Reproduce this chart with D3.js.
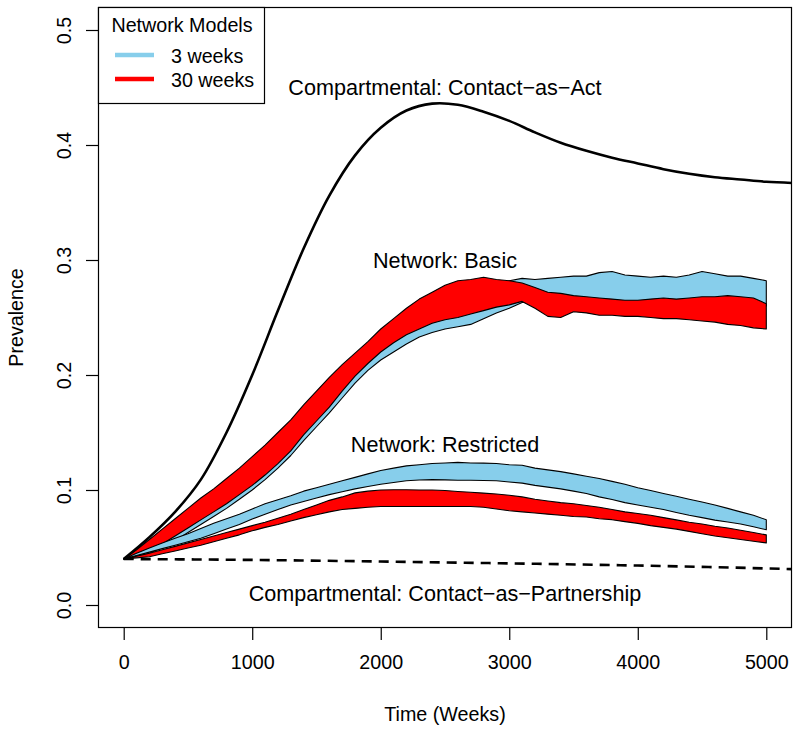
<!DOCTYPE html>
<html><head><meta charset="utf-8">
<script src="https://cdn.jsdelivr.net/npm/d3@7"></script>
<style>body{margin:0;background:#fff}svg{display:block}text{font-family:"Liberation Sans",Arial,Helvetica,sans-serif;fill:#000}</style>
</head><body><svg id="c" width="800" height="732"></svg>
<script>
// ---- data ----
const bandTimes = d3.range(0, 5001, 100);
const basic3Hi  = [.040,.047,.055,.063,.071,.080,.088,.097,.105,.114,.124,.134,.145,.156,.168,.180,.192,.203,.213,.223,.232,.240,.247,.253,.258,.262,.266,.270,.273,.278,.282,.284,.283,.284,.285,.286,.286,.289,.290,.287,.286,.285,.286,.285,.287,.290,.288,.286,.286,.284,.282];
const basic3Lo  = [.040,.042,.045,.050,.056,.063,.070,.077,.084,.092,.100,.109,.119,.130,.143,.155,.167,.180,.193,.204,.213,.220,.227,.233,.237,.240,.242,.244,.249,.254,.258,.263,.264,.264,.265,.265,.264,.264,.263,.263,.263,.264,.264,.264,.265,.265,.265,.265,.264,.262,.260];
const basic30Hi = [.040,.048,.057,.066,.075,.084,.093,.101,.110,.119,.129,.139,.150,.161,.174,.186,.198,.209,.219,.229,.240,.249,.258,.266,.272,.278,.282,.283,.285,.283,.282,.280,.276,.272,.271,.269,.268,.267,.266,.265,.265,.266,.267,.266,.267,.268,.268,.269,.268,.267,.262];
const basic30Lo = [.040,.043,.047,.053,.060,.067,.074,.081,.088,.096,.104,.113,.123,.134,.148,.160,.172,.186,.199,.210,.220,.228,.235,.240,.245,.248,.250,.253,.256,.259,.261,.264,.258,.251,.250,.255,.254,.252,.252,.251,.251,.250,.249,.249,.248,.247,.246,.244,.243,.241,.240];
const restr3Hi  = [.040,.045,.0495,.054,.058,.062,.0665,.071,.075,.079,.0835,.088,.0915,.095,.099,.102,.105,.108,.111,.114,.117,.119,.121,.122,.123,.1235,.124,.1235,.1234,.123,.122,.1215,.119,.1175,.116,.114,.112,.110,.1075,.105,.102,.0995,.097,.0945,.092,.0895,.087,.084,.081,.078,.0741];
const restr3Lo  = [.040,.043,.046,.049,.052,.055,.058,.062,.066,.070,.0748,.079,.083,.087,.090,.093,.096,.0985,.101,.103,.105,.1065,.108,.1087,.109,.1088,.1085,.1085,.1083,.108,.107,.106,.104,.1025,.101,.099,.097,.094,.0917,.089,.087,.085,.083,.0805,.078,.076,.0738,.0722,.0705,.068,.0654];
const restr30Hi = [.040,.0425,.045,.048,.051,.054,.057,.060,.063,.066,.069,.072,.0755,.079,.083,.087,.091,.094,.0975,.099,.100,.1002,.1002,.100,.100,.0995,.0987,.098,.0973,.0965,.0955,.094,.092,.0905,.089,.088,.0865,.085,.083,.081,.0795,.078,.076,.074,.072,.0705,.0685,.067,.065,.063,.061];
const restr30Lo = [.040,.041,.042,.0445,.047,.0495,.052,.055,.058,.061,.0645,.0675,.070,.073,.076,.0785,.081,.083,.084,.085,.0857,.0857,.0857,.0857,.0857,.0857,.0857,.0856,.085,.0835,.082,.081,.080,.079,.078,.077,.0765,.075,.0742,.0725,.071,.069,.0675,.066,.064,.062,.060,.0585,.057,.0555,.054];
const actTimes = d3.range(0, 5201, 200);
const actPrev  = [.040,.059,.081,.109,.150,.200,.256,.310,.356,.391,.415,.430,.436,.435,.429,.421,.411,.402,.395,.389,.384,.379,.375,.372,.370,.368,.367];
const partTimes = [0,1000,2000,3000,4000,5000,5200];
const partPrev  = [.040,.0392,.0378,.0362,.0343,.0318,.0312];
const xTicks = [0,1000,2000,3000,4000,5000];
const yTicks = [0,0.1,0.2,0.3,0.4,0.5];
const legendLabels = ["3 weeks","30 weeks"];
const legendColors = ["#87CEEB","#FF0000"];
const annotations = [
  {text:"Compartmental: Contact\u2212as\u2212Act", t:2500, v:0.45},
  {text:"Network: Basic", t:2500, v:0.30},
  {text:"Network: Restricted", t:2500, v:0.14},
  {text:"Compartmental: Contact\u2212as\u2212Partnership", t:2500, v:0.01}
];

// ---- layout ----
const L=98, R=792, T=7, B=628;
const svg = d3.select("#c");
const x = d3.scaleLinear().domain([-200,5200]).range([L,R]);
const y = d3.scaleLinear().domain([-0.02,0.52]).range([B,T]);

svg.append("clipPath").attr("id","clip").append("rect")
  .attr("x",L).attr("y",T).attr("width",R-L).attr("height",B-T);
const g = svg.append("g").attr("clip-path","url(#clip)");

function band(lo, hi, color){
  const data = bandTimes.map((t,i)=>({t, lo:lo[i], hi:hi[i]}));
  const area = d3.area().x(d=>x(d.t)).y0(d=>y(d.lo)).y1(d=>y(d.hi));
  g.append("path").attr("d", area(data)+"Z")
    .attr("fill", color).attr("stroke","#000").attr("stroke-width",1.1)
    .attr("stroke-linejoin","round");
}
band(basic3Lo, basic3Hi, legendColors[0]);
band(basic30Lo, basic30Hi, legendColors[1]);
band(restr3Lo, restr3Hi, legendColors[0]);
band(restr30Lo, restr30Hi, legendColors[1]);

g.append("path")
  .attr("d", d3.line().x((d,i)=>x(actTimes[i])).y(d=>y(d)).curve(d3.curveCatmullRom.alpha(0.5))(actPrev))
  .attr("fill","none").attr("stroke","#000").attr("stroke-width",2.6);
g.append("path")
  .attr("d", d3.line().x((d,i)=>x(partTimes[i])).y(d=>y(d)).curve(d3.curveMonotoneX)(partPrev))
  .attr("fill","none").attr("stroke","#000").attr("stroke-width",2.6)
  .attr("stroke-dasharray","10,7");

// annotations
svg.selectAll("text.ann").data(annotations).join("text").attr("class","ann")
  .attr("x",d=>x(d.t)).attr("y",d=>y(d.v)).attr("text-anchor","middle")
  .attr("dominant-baseline","central").style("font-size","21.6px").text(d=>d.text);

// frame
svg.append("rect").attr("x",L+0.5).attr("y",T+0.5).attr("width",R-L-1).attr("height",B-T-1)
  .attr("fill","none").attr("stroke","#000").attr("stroke-width",1.2);

// axes
const xa = svg.append("g").attr("transform",`translate(0,${B})`)
  .call(d3.axisBottom(x).tickValues(xTicks).tickFormat(d3.format("d")).tickSize(12).tickPadding(15));
xa.select(".domain").remove();
xa.selectAll("text").style("font-size","19.7px").attr("font-family",null);
xa.selectAll("line").attr("stroke","#000").attr("stroke-width",1.2);

const ya = svg.append("g").attr("transform",`translate(${L},0)`)
  .call(d3.axisLeft(y).tickValues(yTicks).tickFormat(d3.format(".1f")).tickSize(12));
ya.select(".domain").remove();
ya.selectAll("line").attr("stroke","#000").attr("stroke-width",1.2);
ya.selectAll("text").remove();
ya.selectAll(".tick").append("text")
  .attr("transform","translate(-34,0) rotate(-90)")
  .attr("text-anchor","middle").attr("dominant-baseline","central")
  .style("font-size","19.7px").attr("fill","#000").text(d=>d3.format(".1f")(d));

svg.append("text").attr("x",(L+R)/2).attr("y",714).attr("text-anchor","middle")
  .attr("dominant-baseline","central").style("font-size","19.7px").text("Time (Weeks)");
svg.append("text").attr("transform",`translate(16,${(T+B)/2}) rotate(-90)`)
  .attr("text-anchor","middle").attr("dominant-baseline","central")
  .style("font-size","19.7px").text("Prevalence");

// legend
const lg = svg.append("g");
lg.append("rect").attr("x",L+0.5).attr("y",T+0.5).attr("width",166).attr("height",96)
  .attr("fill","#fff").attr("stroke","#000").attr("stroke-width",1.2);
lg.append("text").attr("x",182).attr("y",25).attr("text-anchor","middle")
  .attr("dominant-baseline","central").style("font-size","19.7px").text("Network Models");
legendLabels.forEach((lab,i)=>{
  const yy = 55 + i*24;
  lg.append("line").attr("x1",115).attr("x2",154).attr("y1",yy).attr("y2",yy)
    .attr("stroke",legendColors[i]).attr("stroke-width",4.5);
  lg.append("text").attr("x",171).attr("y",yy+1).attr("dominant-baseline","central")
    .style("font-size","19.7px").text(lab);
});
</script></body></html>
